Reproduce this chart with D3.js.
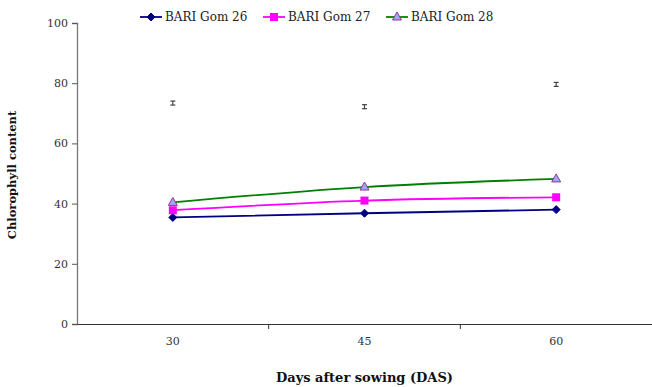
<!DOCTYPE html>
<html><head><meta charset="utf-8">
<script src="https://cdn.jsdelivr.net/npm/d3@7"></script>
<style>body{margin:0;background:#fff}svg{display:block}</style>
</head><body>
<svg id="c" width="652" height="387"></svg>
<script>
const categories = ["30", "45", "60"];
const gom26 = [35.4, 36.8, 38.0];
const gom27 = [37.8, 41.0, 42.1];
const gom28 = [40.4, 45.5, 48.2];
const errMarks = [73.4, 72.2, 79.6];
const yTicks = [0, 20, 40, 60, 80, 100];
const seriesNames = ["BARI Gom 26", "BARI Gom 27", "BARI Gom 28"];

const svg = d3.select("#c");
const L = 77, R = 652, T = 23, B = 324;
const x = d3.scaleBand().domain(categories).range([L, R]);
const y = d3.scaleLinear().domain([0, 100]).range([B, T]);
const font = "'DejaVu Serif', 'Liberation Serif', serif";

// y axis
const ya = svg.append("g").attr("transform", `translate(${L},0)`)
  .call(d3.axisLeft(y).tickValues(yTicks).tickSize(5).tickPadding(4));
ya.select(".domain").attr("stroke", "#777").attr("stroke-width", 1.3);
ya.selectAll(".tick line").attr("stroke", "#555");
ya.selectAll("text").attr("font-family", font).attr("font-size", 11).attr("fill", "#333");

// x axis
const xa = svg.append("g").attr("transform", `translate(0,${B})`)
  .call(d3.axisBottom(x).tickSize(0).tickPadding(13));
xa.select(".domain").attr("stroke", "#333").attr("stroke-width", 1);
xa.selectAll("text").attr("font-family", font).attr("font-size", 11).attr("fill", "#333");
// band boundary ticks
xa.selectAll(".bt").data(categories.slice(1)).enter().append("line")
  .attr("x1", d => x(d)).attr("x2", d => x(d)).attr("y1", 0).attr("y2", 5)
  .attr("stroke", "#333");

const cx = d => x(d) + x.bandwidth() / 2;
const line = d3.line().curve(d3.curveMonotoneX);

const series = [
  {vals: gom26, color: "#000080", marker: "diamond"},
  {vals: gom27, color: "#ff00ff", marker: "square"},
  {vals: gom28, color: "#008000", marker: "triangle"}
];

function drawMarker(g, type, px, py) {
  if (type === "diamond") {
    g.append("path").attr("d", `M${px},${py-4}L${px+4},${py}L${px},${py+4}L${px-4},${py}Z`)
      .attr("fill", "#000080").attr("stroke", "#000080");
  } else if (type === "square") {
    g.append("rect").attr("x", px - 4).attr("y", py - 4).attr("width", 8).attr("height", 8)
      .attr("fill", "#ff00ff");
  } else {
    g.append("path").attr("d", `M${px},${py-5}L${px+4.5},${py+3}L${px-4.5},${py+3}Z`)
      .attr("fill", "#99aaee").attr("stroke", "#993399").attr("stroke-width", 1);
  }
}

series.forEach(s => {
  const pts = categories.map((c, i) => [cx(c), y(s.vals[i])]);
  svg.append("path").attr("d", line(pts)).attr("fill", "none")
    .attr("stroke", s.color).attr("stroke-width", 1.8);
  const g = svg.append("g");
  pts.forEach(p => drawMarker(g, s.marker, p[0], p[1]));
});

// small I marks
categories.forEach((c, i) => {
  const px = cx(c), py = y(errMarks[i]);
  const g = svg.append("g").attr("stroke", "#444").attr("stroke-width", 1.2);
  g.append("line").attr("x1", px).attr("x2", px).attr("y1", py - 2).attr("y2", py + 2);
  g.append("line").attr("x1", px - 2.5).attr("x2", px + 2.5).attr("y1", py - 2).attr("y2", py - 2);
  g.append("line").attr("x1", px - 2.5).attr("x2", px + 2.5).attr("y1", py + 2).attr("y2", py + 2);
});

// legend
const legX = [140, 263, 386];
series.forEach((s, i) => {
  const g = svg.append("g");
  const lx = legX[i], ly = 17;
  g.append("line").attr("x1", lx).attr("x2", lx + 22).attr("y1", ly).attr("y2", ly)
    .attr("stroke", s.color).attr("stroke-width", 1.8);
  drawMarker(g, s.marker, lx + 11, ly);
  g.append("text").attr("x", lx + 25).attr("y", ly + 4).text(seriesNames[i])
    .attr("font-family", font).attr("font-size", 12).attr("fill", "#222");
});

// axis titles
svg.append("text").attr("x", (L + R) / 2).attr("y", 382).attr("text-anchor", "middle")
  .attr("font-family", font).attr("font-size", 13).attr("font-weight", "bold").attr("fill", "#111")
  .text("Days after sowing (DAS)");
svg.append("text").attr("transform", "translate(16,175) rotate(-90)").attr("text-anchor", "middle")
  .attr("font-family", font).attr("font-size", 11.5).attr("font-weight", "bold").attr("fill", "#111")
  .text("Chlorophyll content");
</script>
</body></html>
